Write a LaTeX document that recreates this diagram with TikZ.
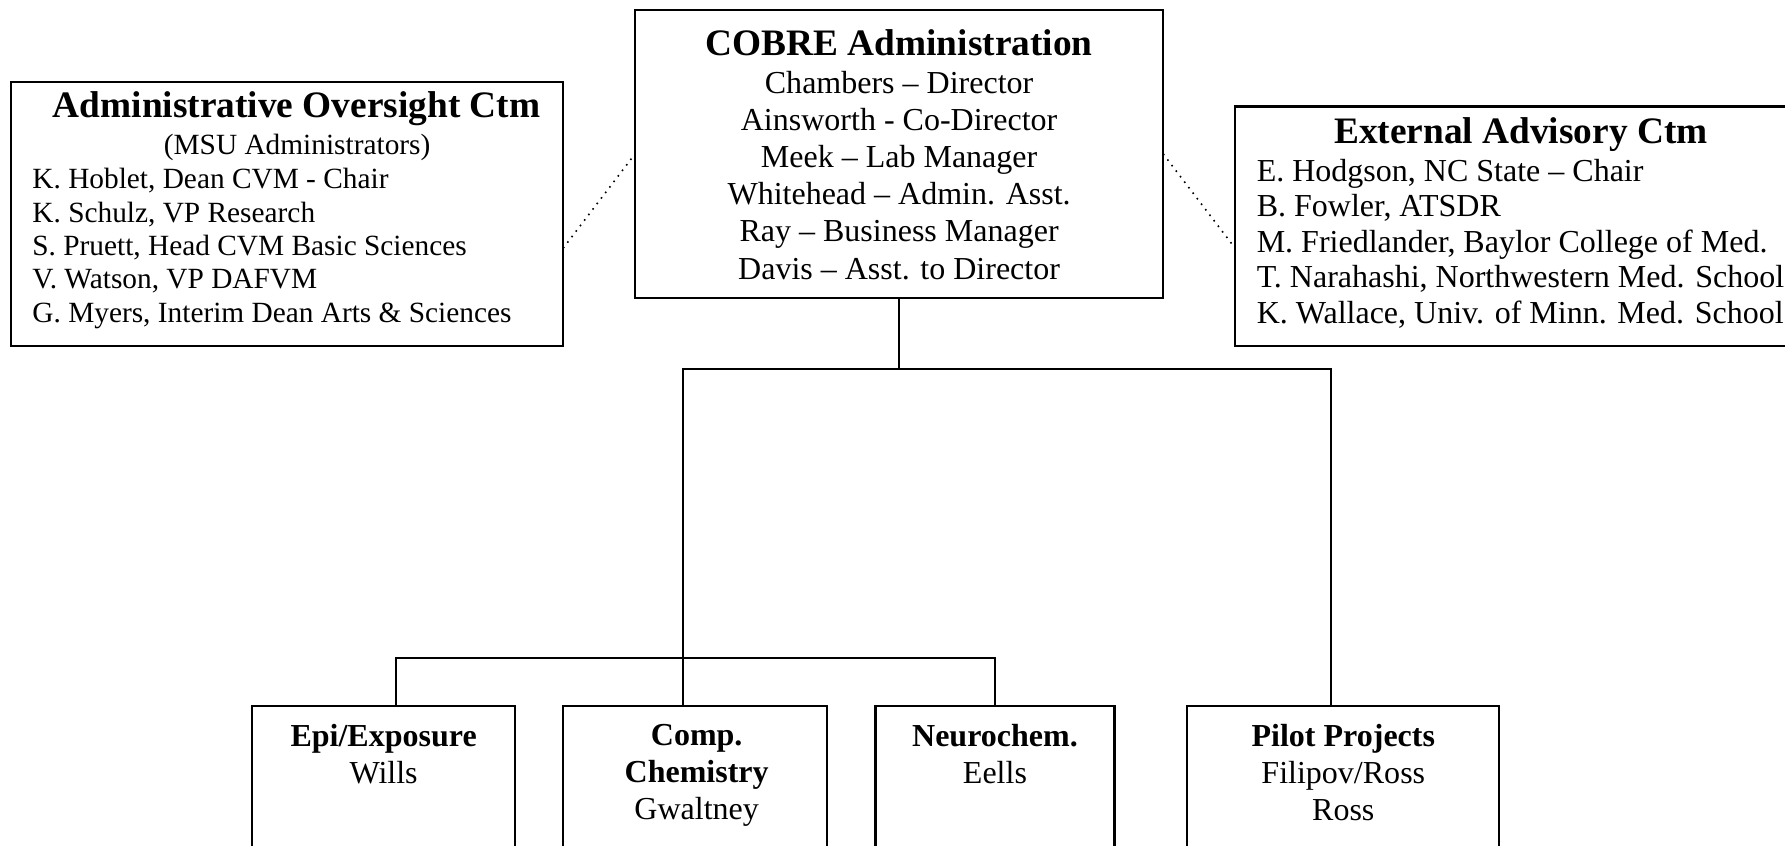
\documentclass[tikz,border=0pt]{standalone}
\usepackage{fontspec}
\setmainfont{Liberation Serif}
\usetikzlibrary{fit}

\begin{document}
\begin{tikzpicture}[x=0.015cm,y=-0.015cm,
  box/.style={draw,line width=0.8pt,inner sep=0pt,outer sep=0pt},
  head/.style={font=\fontsize{14}{16}\selectfont\bfseries,inner sep=0pt,anchor=base},
  roster/.style={font=\fontsize{12}{13.9}\selectfont,inner sep=0pt,align=center,anchor=north},
  link/.style={draw,line width=0.8pt},
  tie/.style={draw,dotted,line width=0.6pt}]
\useasboundingbox (0,0) rectangle (1568,743);
\clip (0,0) rectangle (1568,743);
\node[box,fit={(557.8,8.5) (1021.8,262)}] (cobre) {};
\node[head] (cobre head) at (789.8,49) {COBRE Administration};
\node[roster] (cobre staff) at (789.8,62.3) {Chambers – Director\\Ainsworth - Co-Director\\Meek – Lab Manager\\Whitehead – Admin. Asst.\\Ray – Business Manager\\Davis – Asst. to Director};
\node[box,fit={(9.5,72) (494.7,304)}] (oversight) {};
\node[head] (oversight head) at (260.5,103) {Administrative Oversight Ctm};
\node[inner sep=0pt,anchor=base,font=\fontsize{11}{12.5}\selectfont] (oversight note) at (261,135.5) {(MSU Administrators)};
\node[roster,font=\fontsize{11}{12.5}\selectfont,align=left,anchor=north west] (oversight members) at (28,147.5) {K. Hoblet, Dean CVM - Chair\\K. Schulz, VP Research\\S. Pruett, Head CVM Basic Sciences\\V. Watson, VP DAFVM\\G. Myers, Interim Dean Arts \& Sciences};
\node[box,fit={(1085,93.5) (1600,304)}] (advisory) {};
\node[head] (advisory head) at (1336,126) {External Advisory Ctm};
\node[roster,font=\fontsize{12}{13.3}\selectfont,align=left,anchor=north west] (advisory members) at (1103.5,139.3) {E. Hodgson, NC State – Chair\\B. Fowler, ATSDR\\M. Friedlander, Baylor College of Med.\\T. Narahashi, Northwestern Med. School\\K. Wallace, Univ. of Minn. Med. School};
\node[box,fit={(221,620) (452.5,760)}] (epi) {};
\node[roster] (epi text) at (337,636) {\textbf{Epi/Exposure}\\Wills};
\node[box,fit={(494.5,620) (726.5,760)}] (comp) {};
\node[roster] (comp text) at (612,636) {\textbf{Comp.}\\\textbf{Chemistry}\\Gwaltney};
\node[box,fit={(769,620) (979,760)}] (neuro) {};
\node[roster] (neuro text) at (874,636) {\textbf{Neurochem.}\\Eells};
\node[box,fit={(1043,620) (1317,760)}] (pilot) {};
\node[roster] (pilot text) at (1180,636) {\textbf{Pilot Projects}\\Filipov/Ross\\Ross};
\coordinate (split) at ([yshift=-0.93cm]cobre.south);
\coordinate (fork) at ([xshift=-0.1575cm,yshift=0.63cm]comp.north);
\path[link] (cobre.south) -- (split);
\path[link] ([xshift=-0.1575cm]comp.north) |- (split) -| ([xshift=-0.165cm]pilot.north);
\path[link] ([xshift=0.169cm]epi.north) |- (fork) -| (neuro.north);
\path[tie] ([yshift=-0.45cm]oversight.east) -- (cobre.west);
\path[tie] (cobre.east) -- ([yshift=-0.29cm]advisory.west);
\end{tikzpicture}
\end{document}
